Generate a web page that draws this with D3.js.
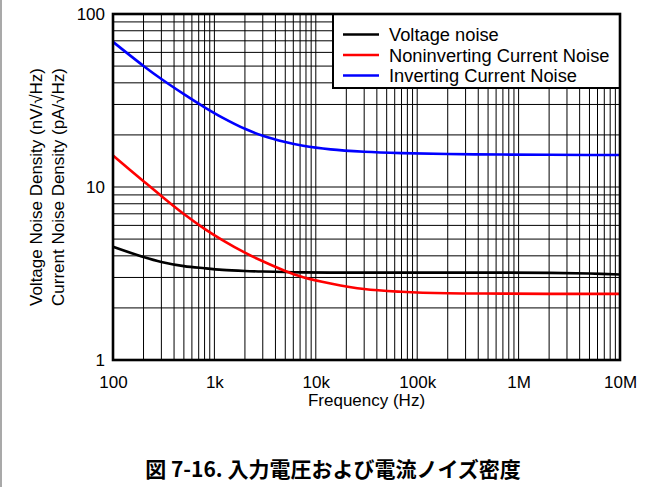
<!DOCTYPE html>
<html>
<head>
<meta charset="utf-8">
<script src="https://cdn.jsdelivr.net/npm/d3@7"></script>
<style>
  html, body { margin: 0; padding: 0; background: #fff; }
  svg { display: block; }
  text { font-family: "Liberation Sans", Arial, sans-serif; fill: #000; }
</style>
</head>
<body>
<svg id="chart" width="661" height="487"></svg>
<script>
// Frequency points (Hz) shared by the three noise curves
const frequency = [100, 200, 300, 500, 800, 1200, 2000, 3000, 5000, 7500, 14000, 30000, 70000, 200000, 700000, 2e6, 5e6, 1e7];
// Voltage noise (nV/√Hz)
const voltageNoise = [4.52, 3.94, 3.69, 3.49, 3.39, 3.32, 3.27, 3.245, 3.225, 3.21, 3.2, 3.2, 3.2, 3.2, 3.2, 3.19, 3.16, 3.12];
// Noninverting current noise (pA/√Hz)
const noninvCurrentNoise = [15.2, 10.8, 8.87, 6.98, 5.73, 4.93, 4.17, 3.72, 3.27, 3.01, 2.77, 2.57, 2.48, 2.43, 2.42, 2.41, 2.41, 2.41];
// Inverting current noise (pA/√Hz)
const invCurrentNoise = [69, 50.1, 42.1, 34.4, 28.9, 25.2, 21.7, 19.8, 18.2, 17.3, 16.5, 16.0, 15.7, 15.5, 15.4, 15.35, 15.3, 15.3];

const seriesNames = ["Voltage noise", "Noninverting Current Noise", "Inverting Current Noise"];
const seriesColors = ["#000000", "#ff0000", "#0000ff"];
const seriesValues = [voltageNoise, noninvCurrentNoise, invCurrentNoise];

const xTickValues = [100, 1e3, 1e4, 1e5, 1e6, 1e7];
const xTickLabels = ["100", "1k", "10k", "100k", "1M", "10M"];
const yTickValues = [1, 10, 100];
const yTickLabels = ["1", "10", "100"];

const xTitle = "Frequency (Hz)";
const yTitle1 = "Voltage Noise Density (nV/√Hz)";
const yTitle2 = "Current Noise Density (pA/√Hz)";
const caption = "図 7-16. 入力電圧および電流ノイズ密度";

const svg = d3.select("#chart");
const W = 661, H = 487;
const plot = { left: 113, right: 620, top: 14, bottom: 360 };

// page edge rule
svg.append("line")
  .attr("x1", 1).attr("x2", 1).attr("y1", 0).attr("y2", H)
  .attr("stroke", "#8c8c8c").attr("stroke-width", 1.5);

const x = d3.scaleLog().domain([100, 1e7]).range([plot.left, plot.right]);
const y = d3.scaleLog().domain([1, 100]).range([plot.bottom, plot.top]);

// grid: every 1..9 subdivision of each decade
const xGrid = [];
for (let d = 100; d < 1e7; d *= 10) for (let k = 1; k < 10; k++) xGrid.push(d * k);
xGrid.push(1e7);
const yGrid = [];
for (let d = 1; d < 100; d *= 10) for (let k = 1; k < 10; k++) yGrid.push(d * k);
yGrid.push(100);

const grid = svg.append("g").attr("stroke", "#000").attr("stroke-width", 1);
grid.selectAll("line.v").data(xGrid).join("line").attr("class", "v")
  .attr("x1", d => x(d)).attr("x2", d => x(d))
  .attr("y1", plot.top).attr("y2", plot.bottom);
grid.selectAll("line.h").data(yGrid).join("line").attr("class", "h")
  .attr("x1", plot.left).attr("x2", plot.right)
  .attr("y1", d => y(d)).attr("y2", d => y(d));

// curves
const line = d3.line()
  .x(d => x(d[0]))
  .y(d => y(d[1]))
  .curve(d3.curveCatmullRom.alpha(0.5));

seriesValues.forEach((vals, i) => {
  svg.append("path")
    .datum(frequency.map((f, j) => [f, vals[j]]))
    .attr("fill", "none")
    .attr("stroke", seriesColors[i])
    .attr("stroke-width", 2.6)
    .attr("stroke-linejoin", "round")
    .attr("d", line);
});

// legend
const lg = { x: 333, y: plot.top, w: plot.right - 333, h: 74 };
svg.append("rect")
  .attr("x", lg.x).attr("y", lg.y).attr("width", lg.w).attr("height", lg.h)
  .attr("fill", "#fff").attr("stroke", "#000").attr("stroke-width", 2);
seriesNames.forEach((name, i) => {
  const cy = lg.y + 20.5 + i * 20.5;
  svg.append("line")
    .attr("x1", lg.x + 10).attr("x2", lg.x + 46)
    .attr("y1", cy).attr("y2", cy)
    .attr("stroke", seriesColors[i]).attr("stroke-width", 2.6);
  svg.append("text")
    .attr("x", lg.x + 56).attr("y", cy + 6.5)
    .attr("font-size", 18.3)
    .text(name);
});

// plot frame
svg.append("rect")
  .attr("x", plot.left).attr("y", plot.top)
  .attr("width", plot.right - plot.left).attr("height", plot.bottom - plot.top)
  .attr("fill", "none").attr("stroke", "#000").attr("stroke-width", 2.6);

// axes
const xAxis = d3.axisBottom(x).tickValues(xTickValues)
  .tickFormat((d, i) => xTickLabels[i]).tickSize(0).tickPadding(16);
svg.append("g").attr("transform", `translate(0,${plot.bottom})`).call(xAxis)
  .call(g => g.select(".domain").remove())
  .selectAll("text").attr("font-size", 17).attr("font-family", "Liberation Sans, Arial, sans-serif");

const yAxis = d3.axisLeft(y).tickValues(yTickValues)
  .tickFormat((d, i) => yTickLabels[i]).tickSize(0).tickPadding(8);
svg.append("g").attr("transform", `translate(${plot.left},0)`).call(yAxis)
  .call(g => g.select(".domain").remove())
  .selectAll("text").attr("font-size", 17).attr("font-family", "Liberation Sans, Arial, sans-serif");

// axis titles
svg.append("text")
  .attr("x", (plot.left + plot.right) / 2).attr("y", 406)
  .attr("text-anchor", "middle").attr("font-size", 17)
  .text(xTitle);

const yMid = (plot.top + plot.bottom) / 2;
svg.append("text")
  .attr("transform", `translate(42,${yMid}) rotate(-90)`)
  .attr("text-anchor", "middle").attr("font-size", 17)
  .text(yTitle1);
svg.append("text")
  .attr("transform", `translate(64,${yMid}) rotate(-90)`)
  .attr("text-anchor", "middle").attr("font-size", 17)
  .text(yTitle2);

// figure caption
svg.append("text")
  .attr("x", 333).attr("y", 477)
  .attr("text-anchor", "middle")
  .attr("font-size", 21).attr("font-weight", "bold")
  .style("font-family", "'Noto Sans CJK JP', sans-serif")
  .text(caption);
</script>
</body>
</html>
